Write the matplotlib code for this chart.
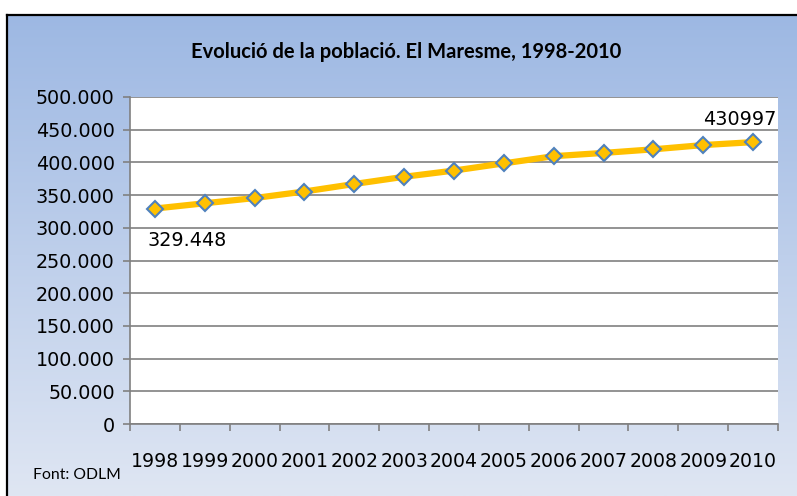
import numpy as np
import matplotlib.pyplot as plt
from matplotlib.colors import LinearSegmentedColormap

# dades
years = ['1998', '1999', '2000', '2001', '2002', '2003', '2004',
         '2005', '2006', '2007', '2008', '2009', '2010']
population = [329448, 337500, 345500, 355500, 367000, 378000, 387500,
              398500, 409500, 414500, 420000, 426500, 430997]
y_ticks = [0, 50000, 100000, 150000, 200000, 250000, 300000,
           350000, 400000, 450000, 500000]
y_labels = ['0', '50.000', '100.000', '150.000', '200.000', '250.000',
            '300.000', '350.000', '400.000', '450.000', '500.000']
title = 'Evolució de la població. El Maresme, 1998-2010'
source = 'Font: ODLM'
first_label = '329.448'
last_label = '430997'

W, H = 797, 496
fig = plt.figure(figsize=(W / 100, H / 100), dpi=100)

# fons amb degradat
bg = fig.add_axes([7 / W, 0, 1 - 7 / W, (H - 15) / H])
cmap = LinearSegmentedColormap.from_list('bg', ['#9db8e3', '#dfe6f3'])
grad = np.linspace(0, 1, 256).reshape(-1, 1)
bg.imshow(grad, aspect='auto', cmap=cmap, extent=[0, 1, 0, 1], origin='upper')
bg.set_xlim(0, 1)
bg.set_ylim(0, 1)
bg.axis('off')
# vora negra (esquerra i dalt)
fig.add_artist(plt.Line2D([7 / W, 7 / W], [0, (H - 15) / H], color='black', lw=1.6))
fig.add_artist(plt.Line2D([7 / W, 1], [(H - 15) / H, (H - 15) / H], color='black', lw=1.6))

ax = fig.add_axes([130 / W, (H - 424) / H, (778 - 130) / W, (424 - 97) / H])
ax.set_facecolor('white')
x = np.arange(len(years))
ax.plot(x, population, color='#ffc000', lw=4.5, marker='D', markersize=8.5,
        markerfacecolor='#ffc000', markeredgecolor='#4f81bd', markeredgewidth=1.5,
        zorder=3)

ax.set_ylim(0, 500000)
ax.set_xlim(-0.5, len(years) - 0.5)
ax.set_yticks(y_ticks)
ax.set_yticklabels(y_labels, fontsize=13.8, family='DejaVu Sans')
ax.yaxis.grid(True, color='#808080', lw=1.2)
ax.set_axisbelow(True)

ax.set_xticks(np.arange(-0.5, len(years)), minor=False)
ax.set_xticklabels([])
ax.set_xticks(x, minor=True)
ax.set_xticklabels(years, minor=True, fontsize=13.6, family='DejaVu Sans')
ax.tick_params(axis='x', which='major', direction='out', length=5, color='#808080', width=1.2)
ax.tick_params(axis='x', which='minor', length=0, pad=20)
ax.tick_params(axis='y', direction='out', length=5, color='#808080', width=1.2, pad=6)

for s in ['top', 'right']:
    ax.spines[s].set_visible(False)
for s in ['left', 'bottom']:
    ax.spines[s].set_color('#808080')
    ax.spines[s].set_linewidth(1.2)

ax.text(x[0] - 0.14, population[0] - 49000, first_label, fontsize=13.8,
        family='DejaVu Sans', ha='left', va='center')
ax.text(x[-1] + 0.47, population[-1] + 34000, last_label, fontsize=13.8,
        family='DejaVu Sans', ha='right', va='center', clip_on=False)

fig.text(406 / W, (H - 52) / H, title, fontsize=14.5, fontweight='bold',
         family='Lato', ha='center', va='center')
fig.text(33 / W, (H - 475) / H, source, fontsize=11.3, family='Lato',
         ha='left', va='center')

fig.savefig('out.png', dpi=100)
